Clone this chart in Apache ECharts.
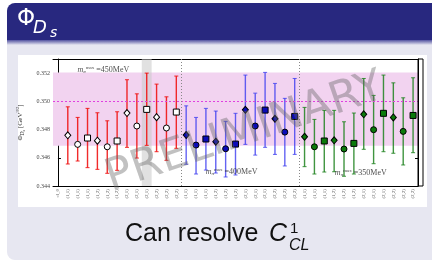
<!DOCTYPE html>
<html><head><meta charset="utf-8">
<script src="https://cdn.jsdelivr.net/npm/echarts@6/dist/echarts.min.js"></script>
<style>html,body{margin:0;padding:0;background:#fff}#c{width:432px;height:263px}</style>
</head><body><div id="c"></div>
<script>
// ---- data ----
const groupLabels = ['(1,1)','(1,1)','(1,1)','(1,2)','(1,2)','(1,2)','(2,1)','(2,1)','(2,1)','(2,2)','(2,2)','(2,2)'];
const categories = ['cl_0'].concat(groupLabels, groupLabels, groupLabels);
const shapes = ['diamond','circle','rect'];

const red450 = [0.34759,0.34695,0.34740,0.34721,0.34678,0.34719,0.34917,0.34825,0.34943,0.34888,0.34811,0.34924];
const red450Low = [0.34556,0.34577,0.34530,0.34518,0.34490,0.34511,0.34674,0.34598,0.34688,0.34643,0.34582,0.34667];
const red450High = [0.34961,0.34886,0.34950,0.34919,0.34862,0.34926,0.35153,0.35053,0.35200,0.35122,0.35032,0.35179];

const blue400 = [0.34761,0.34690,0.34733,0.34714,0.34664,0.34697,0.34940,0.34825,0.34938,0.34876,0.34782,0.34893];
const blue400Low = [0.34554,0.34485,0.34513,0.34492,0.34464,0.34478,0.34695,0.34619,0.34674,0.34624,0.34542,0.34624];
const blue400High = [0.34968,0.34886,0.34950,0.34931,0.34858,0.34915,0.35186,0.35058,0.35205,0.35127,0.35021,0.35162];

const green350 = [0.34749,0.34678,0.34719,0.34724,0.34662,0.34702,0.34908,0.34799,0.34915,0.34886,0.34787,0.34900];
const green350Low = [0.34537,0.34485,0.34499,0.34501,0.34469,0.34485,0.34660,0.34558,0.34643,0.34632,0.34549,0.34636];
const green350High = [0.34957,0.34872,0.34936,0.34936,0.34855,0.34917,0.35162,0.35042,0.35186,0.35131,0.35025,0.35167];

const bandLow = 0.34685, bandHigh = 0.35205, bandCenter = 0.34945;
const highlightCat = 9;          // grey column
const groupSeparators = [12.5, 24.5];
const yTicks = [0.344, 0.346, 0.348, 0.350, 0.352];
const annotations = [
  {x: 4.6, y: 0.35221, text: '450MeV'},
  {x: 17.6, y: 0.34499, text: '400MeV'},
  {x: 30.7, y: 0.34492, text: '350MeV'}
];

// ---- chart ----
const chart = echarts.init(document.getElementById('c'), null, {renderer: 'canvas'});
const serif = '"Liberation Serif","DejaVu Serif",serif';

function errSeries(color, low, high, offset) {
  return {
    type: 'custom', xAxisIndex: 0, yAxisIndex: 0, z: 3, silent: true,
    data: low.map((l, i) => [offset + i, l, high[i]]),
    encode: {x: 0, y: [1, 2]},
    renderItem(params, api) {
      const x = api.value(0);
      const p1 = api.coord([x, api.value(1)]);
      const p2 = api.coord([x, api.value(2)]);
      const w = 2;
      return {type: 'group', children: [
        {type: 'line', shape: {x1: p1[0], y1: p1[1], x2: p2[0], y2: p2[1]}, style: {stroke: color, lineWidth: 1.4}},
        {type: 'line', shape: {x1: p1[0]-w, y1: p1[1], x2: p1[0]+w, y2: p1[1]}, style: {stroke: color, lineWidth: 1}},
        {type: 'line', shape: {x1: p2[0]-w, y1: p2[1], x2: p2[0]+w, y2: p2[1]}, style: {stroke: color, lineWidth: 1}}
      ]};
    }
  };
}
const symSize = {diamond: [6, 7], circle: 6, rect: 6};
function markerSeries(fill, vals, offset) {
  return {
    type: 'scatter', xAxisIndex: 0, yAxisIndex: 0, z: 4, silent: true,
    data: vals.map((v, i) => ({value: [offset + i, v], symbol: shapes[i % 3], symbolSize: symSize[shapes[i % 3]]})),
    itemStyle: {color: fill, borderColor: '#000', borderWidth: 1, opacity: 1}
  };
}

const option = {
  animation: false,
  grid: {left: 53, right: 14, top: 59, bottom: 77, show: false},
  xAxis: [
    {type: 'category', data: categories.map((c, i) => String(i)), boundaryGap: true, position: 'bottom',
     axisLine: {lineStyle: {color: '#000', width: 1}},
     axisTick: {inside: true, length: 3, alignWithLabel: true, interval: 0, lineStyle: {color: '#000'}},
     axisLabel: {interval: 0, rotate: 90, fontSize: 5, color: '#666', margin: 3, fontFamily: serif,
       formatter: (v, i) => categories[i]}},
    {type: 'category', data: categories.map((c, i) => String(i)), boundaryGap: true, position: 'top',
     axisLine: {lineStyle: {color: '#000', width: 1}},
     axisTick: {inside: true, length: 3, alignWithLabel: true, interval: 0, lineStyle: {color: '#000'}},
     axisLabel: {show: false}},
    {type: 'value', min: -0.5, max: 36.5, show: false}
  ],
  yAxis: [
    {type: 'value', min: 0.344, max: 0.353, interval: 0.002, position: 'left',
     axisLine: {show: true, lineStyle: {color: '#000'}},
     axisTick: {inside: true, length: 3, lineStyle: {color: '#000'}},
     splitLine: {show: false}, showMaxLabel: false,
     axisLabel: {fontSize: 6, color: '#444', margin: 3, fontFamily: serif,
       formatter: v => yTicks.some(t => Math.abs(t - v) < 1e-7) ? v.toFixed(3) : ''},
     name: '{a|Φ}{b|D}{c|s}{a| [GeV}{d|3/2}{a|]}', nameLocation: 'middle', nameGap: 26, nameRotate: 90,
     nameTextStyle: {rich: {
       a: {fontSize: 7, fontFamily: serif, color: '#333'},
       b: {fontSize: 5.5, fontFamily: serif, fontStyle: 'italic', color: '#333', padding: [4, 0, 0, 0]},
       c: {fontSize: 4, fontFamily: serif, fontStyle: 'italic', color: '#333', padding: [6, 0, 0, 0]},
       d: {fontSize: 4.5, fontFamily: serif, color: '#333', padding: [0, 0, 5, 0]}
     }}},
    {type: 'value', min: 0.344, max: 0.353, interval: 0.002, position: 'right',
     axisLine: {show: true, lineStyle: {color: '#000'}},
     axisTick: {inside: true, length: 3, lineStyle: {color: '#000'}},
     splitLine: {show: false}, axisLabel: {show: false}}
  ],
  series: [
    {type: 'scatter', xAxisIndex: 2, yAxisIndex: 0, data: [], z: 1, silent: true,
     markArea: {silent: true, data: [
       [{yAxis: bandLow, itemStyle: {color: '#f2d3f0'}}, {yAxis: bandHigh}],
       [{xAxis: highlightCat - 0.5, yAxis: 0.344, itemStyle: {color: 'rgba(200,200,200,0.55)'}}, {xAxis: highlightCat + 0.5, yAxis: 0.353}]
     ]},
     markLine: {silent: true, symbol: 'none', label: {show: false}, data: [
       {yAxis: bandCenter, lineStyle: {color: '#e040e0', type: [2, 2], width: 1}},
       ...groupSeparators.map(s => ({xAxis: s, lineStyle: {color: '#888', type: [1, 2], width: 1}}))
     ]}},
    errSeries('rgba(240,20,20,0.9)', red450Low, red450High, 1),
    errSeries('rgba(60,60,240,0.8)', blue400Low, blue400High, 13),
    errSeries('rgba(30,130,30,0.85)', green350Low, green350High, 25),
    markerSeries('#ffffff', red450, 1),
    markerSeries('#0b0bb8', blue400, 13),
    markerSeries('#0b7a0b', green350, 25),
    {type: 'scatter', xAxisIndex: 2, yAxisIndex: 0, z: 5, silent: true, symbolSize: 0,
     data: annotations.map(a => ({value: [a.x, a.y], name: a.text})),
     label: {show: true, position: 'inside', formatter: p => '{m|m}{s|π}{u|max}{t| =' + p.name + '}',
       rich: {
         m: {fontSize: 8, fontFamily: serif, fontStyle: 'italic', color: '#222'},
         s: {fontSize: 5, fontFamily: serif, fontStyle: 'italic', color: '#222', padding: [4, 0, 0, 0]},
         u: {fontSize: 5, fontFamily: serif, color: '#222', padding: [0, 0, 5, 0]},
         t: {fontSize: 8, fontFamily: serif, color: '#222'}
       }}}
  ],
  graphic: [
    {type: 'rect', z: -10, shape: {x: 7, y: 3, width: 440, height: 40, r: [8, 0, 0, 0]}, style: {fill: '#28287f'}},
    {type: 'rect', z: -10, shape: {x: 7, y: 42, width: 440, height: 218, r: [0, 0, 0, 8]}, style: {fill: '#e7e7f1'}},
    {type: 'rect', z: -10, shape: {x: 7, y: 40, width: 440, height: 5},
     style: {fill: new echarts.graphic.LinearGradient(0, 0, 0, 1, [{offset: 0, color: '#5252a0'}, {offset: 1, color: '#e7e7f1'}])}},
    {type: 'rect', z: -9, shape: {x: 18, y: 55, width: 409, height: 152}, style: {fill: '#ffffff'}},
    {type: 'rect', z: 10, shape: {x: 418, y: 59, width: 5, height: 127}, style: {fill: 'none', stroke: '#000', lineWidth: 1}},
    {type: 'text', z: 10, x: 17, y: 31, style: {
      text: 'Φ', textVerticalAlign: 'bottom', font: '23px "DejaVu Sans", sans-serif', fill: '#fff'}},
    {type: 'text', z: 10, x: 33, y: 37, style: {
      text: 'D', textVerticalAlign: 'bottom', font: 'italic 18px "DejaVu Sans", sans-serif', fill: '#fff'}},
    {type: 'text', z: 10, x: 50, y: 40, style: {
      text: 's', textVerticalAlign: 'bottom', font: 'italic 14px "DejaVu Sans", sans-serif', fill: '#fff'}},
    {type: 'text', z: 20, x: 245, y: 133, rotation: 0.33, silent: true, style: {
      text: 'PRELIMINARY', textAlign: 'center', textVerticalAlign: 'middle',
      font: '44px "DejaVu Sans", sans-serif', fill: 'rgba(100,100,100,0.4)'}},
    {type: 'text', z: 10, x: 125, y: 247, style: {
      text: 'Can resolve ', textVerticalAlign: 'bottom', font: '25px "Liberation Sans", sans-serif', fill: '#111'}},
    {type: 'text', z: 10, x: 269, y: 247, style: {
      text: 'C', textVerticalAlign: 'bottom', font: 'italic 25px "Liberation Sans", sans-serif', fill: '#111'}},
    {type: 'text', z: 10, x: 290, y: 236, style: {
      text: '1', textVerticalAlign: 'bottom', font: '15px "Liberation Sans", sans-serif', fill: '#111'}},
    {type: 'text', z: 10, x: 289, y: 254, style: {
      text: 'CL', textVerticalAlign: 'bottom', font: 'italic 16px "Liberation Sans", sans-serif', fill: '#111'}}
  ]
};
chart.setOption(option);
</script>
</body></html>
